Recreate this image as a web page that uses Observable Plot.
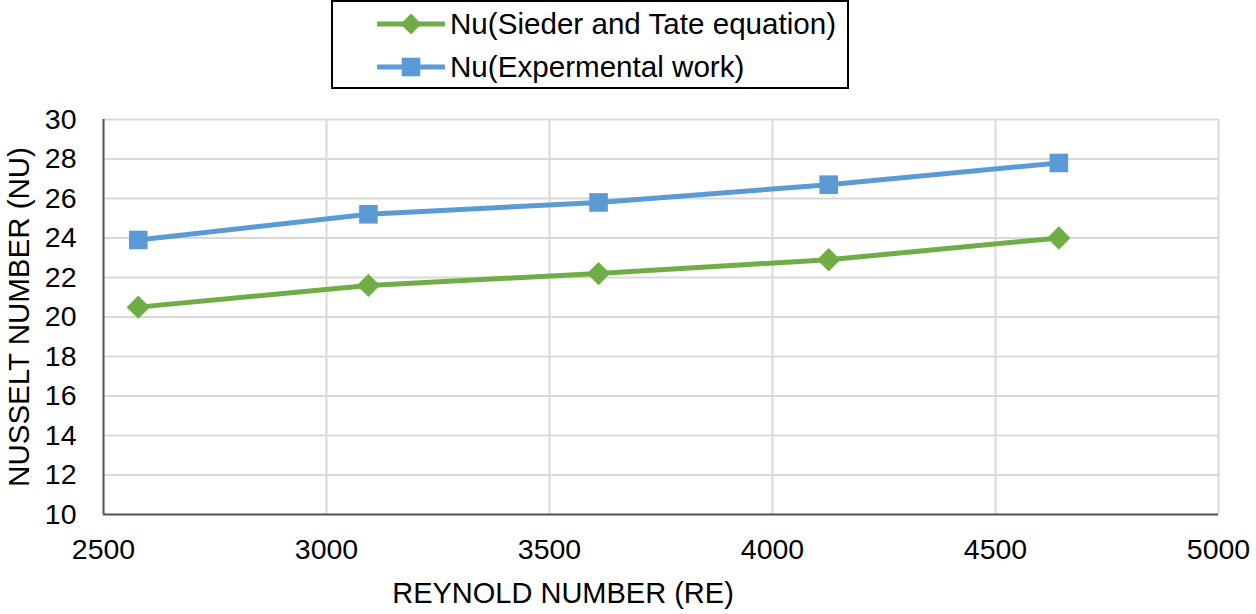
<!DOCTYPE html>
<html>
<head>
<meta charset="utf-8">
<script src="https://cdn.jsdelivr.net/npm/d3@7"></script>
<script src="https://cdn.jsdelivr.net/npm/@observablehq/plot@0.6"></script>
<style>
  html, body { margin: 0; padding: 0; background: #fff; }
  body { width: 1256px; height: 614px; overflow: hidden; font-family: "Liberation Sans", Arial, Helvetica, sans-serif; }
  #legend-wrap { height: 90px; position: relative; }
  #legend { position: absolute; left: 331px; top: 0px; width: 514px; height: 85px; border: 2px solid #000; background: #fff; }
  .row { position: absolute; left: 44px; height: 40px; display: flex; align-items: center; font-size: 29.6px; color: #000; white-space: nowrap; }
  .row svg { margin-right: 5px; }
  #chart svg { display: block; overflow: visible; }
</style>
</head>
<body>
<div id="legend-wrap"><div id="legend"></div></div>
<div id="chart"></div>
<script>
// ---- data ----
const reynolds = [2578, 3094, 3610, 4126, 4642];
const nuSiederTate = [20.5, 21.6, 22.2, 22.9, 24.0];
const nuExperimental = [23.9, 25.2, 25.8, 26.7, 27.8];
const seriesNames = ["Nu(Sieder and Tate equation)", "Nu(Expermental work)"];
const seriesColors = ["#70ad47", "#5b9bd5"];
const seriesSymbols = ["diamond2", "square"];
const xTicks = [2500, 3000, 3500, 4000, 4500, 5000];
const yTicks = [10, 12, 14, 16, 18, 20, 22, 24, 26, 28, 30];
const xTitle = ["REYNOLD NUMBER (RE)"];
const yTitle = ["NUSSELT NUMBER (NU)"];

const rows = [];
reynolds.forEach((re, i) => {
  rows.push({series: seriesNames[0], re, nu: nuSiederTate[i]});
  rows.push({series: seriesNames[1], re, nu: nuExperimental[i]});
});

const font = "Liberation Sans, Arial, Helvetica, sans-serif";

const chart = Plot.plot({
  width: 1256,
  height: 524,
  marginTop: 29,
  marginBottom: 100,
  marginLeft: 103,
  marginRight: 38,
  style: {fontFamily: font, fontSize: "28px", color: "#000", background: "#fff", overflow: "visible"},
  x: {domain: [2500, 5000], ticks: xTicks, label: null},
  y: {domain: [10, 30], ticks: yTicks, label: null},
  color: {domain: seriesNames, range: seriesColors},
  symbol: {domain: seriesNames, range: seriesSymbols},
  marks: [
    Plot.gridX(xTicks, {stroke: "#d9d9d9", strokeOpacity: 1, strokeWidth: 2}),
    Plot.gridY(yTicks, {stroke: "#d9d9d9", strokeOpacity: 1, strokeWidth: 2}),
    Plot.axisX(xTicks, {tickSize: 0, tickPadding: 24, fontSize: 28.5, fill: "#000", label: null, tickFormat: d => String(d)}),
    Plot.axisY(yTicks, {tickSize: 0, tickPadding: 27, fontSize: 28.5, fill: "#000", label: null, tickFormat: d => String(d)}),
    Plot.ruleX([2500], {stroke: "#595959", strokeWidth: 2}),
    Plot.ruleY([10], {stroke: "#595959", strokeWidth: 2}),
    Plot.line(rows, {x: "re", y: "nu", z: "series", stroke: "series", strokeWidth: 5}),
    Plot.dot(rows, {x: "re", y: "nu", symbol: "series", fill: "series", r: 10.5, stroke: null}),
    Plot.text(xTitle, {text: d => d, frameAnchor: "bottom", textAnchor: "middle", dx: -98, dy: 79, fontSize: 29, fill: "#000", lineAnchor: "middle"}),
    Plot.text(yTitle, {text: d => d, frameAnchor: "left", textAnchor: "middle", dx: -84, rotate: -90, fontSize: 29.5, fill: "#000", lineAnchor: "middle"})
  ]
});
document.getElementById("chart").appendChild(chart);

// ---- legend ----
const legend = document.getElementById("legend");
const rowTops = [2, 45];
seriesNames.forEach((name, i) => {
  const row = document.createElement("div");
  row.className = "row";
  row.style.top = rowTops[i] + "px";
  const svg = d3.create("svg").attr("width", 68).attr("height", 30);
  svg.append("line").attr("x1", 1).attr("x2", 67).attr("y1", 15).attr("y2", 15)
    .attr("stroke", seriesColors[i]).attr("stroke-width", 5).attr("stroke-linecap", "round");
  const sym = seriesSymbols[i] === "square" ? d3.symbolSquare : d3.symbolDiamond2;
  const size = Math.PI * 10.5 * 10.5 * (seriesSymbols[i] === "square" ? 1 : 0.8);
  svg.append("path").attr("d", d3.symbol(sym, size)()).attr("transform", "translate(34,15)")
    .attr("fill", seriesColors[i]);
  row.appendChild(svg.node());
  const span = document.createElement("span");
  span.textContent = name;
  row.appendChild(span);
  legend.appendChild(row);
});
</script>
</body>
</html>
